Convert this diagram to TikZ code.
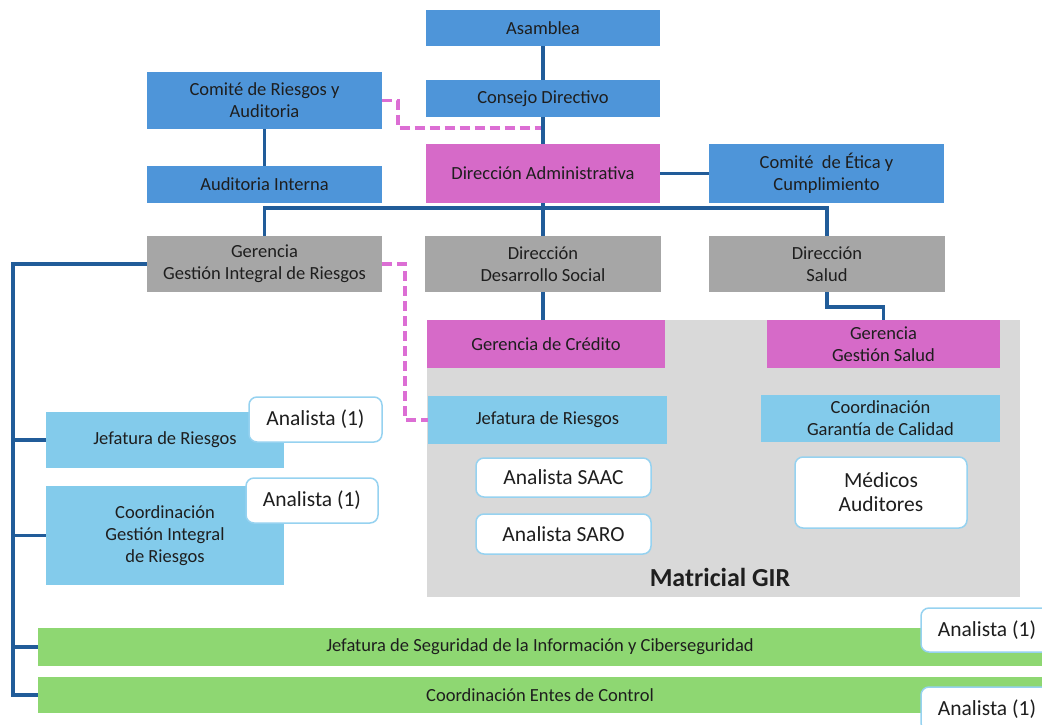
\documentclass[tikz,border=0pt]{standalone}
\usepackage{fontspec}
\setmainfont{Carlito}

\definecolor{midblue}{RGB}{78,149,217}
\definecolor{orchid}{RGB}{214,106,200}
\definecolor{boxgray}{RGB}{166,166,166}
\definecolor{skyblue}{RGB}{131,203,235}
\definecolor{leafgreen}{RGB}{142,215,114}
\definecolor{matrixgray}{RGB}{217,217,217}
\definecolor{linkblue}{RGB}{33,92,153}
\definecolor{dashpink}{RGB}{220,110,212}
\definecolor{inkgray}{RGB}{30,30,30}
\definecolor{rimblue}{RGB}{150,210,240}

\begin{document}
\begin{tikzpicture}[x=1pt, y=-1pt,
		unit/.style={rectangle, inner sep=0pt, align=center, text=inkgray, font=\fontsize{18.5}{22}\selectfont},
		blueBox/.style={unit, fill=midblue},
		pinkBox/.style={unit, fill=orchid},
		greyBox/.style={unit, fill=boxgray},
		cyanBox/.style={unit, fill=skyblue},
		greenBar/.style={unit, fill=leafgreen, minimum width=1004pt},
		staffBox/.style={unit, fill=white, draw=rimblue, line width=1.5pt, rounded corners=8pt, font=\fontsize{21.5}{24}\selectfont},
		link/.style={draw=linkblue, line width=3.5pt},
		pinkLink/.style={draw=dashpink, line width=3.5pt, dash pattern=on 10pt off 5pt}]
			\clip (0,0) rectangle (1042,725);
			
			% Matricial area (behind)
			\node[rectangle, fill=matrixgray, minimum width=593pt, minimum height=277pt] (matriz) at (723.5,458.5) {};
			\node[font=\fontsize{26}{30}\selectfont\bfseries, text=black!88] (mlabel) at (720,577) {Matricial GIR};
			
			% Nodes - top
			\node[blueBox, minimum width=234pt, minimum height=36pt] (asam) at (543,28) {Asamblea};
			\node[blueBox, minimum width=234pt, minimum height=37pt] (consejo) at (543,98.5) {Consejo Directivo};
			\node[blueBox, minimum width=235pt, minimum height=57pt] (comiteRA) at (264.5,100.5) {Comité de Riesgos y\\Auditoria};
			\node[blueBox, minimum width=235pt, minimum height=37pt] (audint) at (264.5,184.5) {Auditoria Interna};
			\node[pinkBox, minimum width=234pt, minimum height=59pt] (diradm) at (543,173.5) {Dirección Administrativa};
			\node[blueBox, minimum width=235pt, minimum height=59pt] (comiteEC) at (826.5,173.5) {Comité\ \ de Ética y\\Cumplimiento};
			
			% Nodes - directions
			\node[greyBox, minimum width=235pt, minimum height=56pt] (gir) at (264.5,264) {Gerencia\\Gestión Integral de Riesgos};
			\node[greyBox, minimum width=236pt, minimum height=56pt] (dds) at (543,264) {Dirección\\Desarrollo Social};
			\node[greyBox, minimum width=236pt, minimum height=56pt] (dsalud) at (827,264) {Dirección\\Salud};
			
			% Nodes - matricial
			\node[pinkBox, minimum width=238pt, minimum height=48pt] (gcred) at (546,344) {Gerencia de Crédito};
			\node[pinkBox, minimum width=233pt, minimum height=48pt] (gsalud) at (883.5,344) {Gerencia\\Gestión Salud};
			\node[cyanBox, minimum width=239pt, minimum height=48pt] (jefR2) at (547.5,420) {Jefatura de Riesgos};
			\node[cyanBox, minimum width=239pt, minimum height=47pt] (coordGC) at (880.5,418.5) {Coordinación\\Garantía de Calidad};
			\node[staffBox, minimum width=175pt, minimum height=39pt] (saac) at (563.5,477.5) {Analista SAAC};
			\node[staffBox, minimum width=175pt, minimum height=40pt] (saro) at (563.5,534) {Analista SARO};
			\node[staffBox, minimum width=172pt, minimum height=71pt] (medicos) at (881,492.5) {Médicos\\Auditores};
			
			% Nodes - left column
			\node[cyanBox, minimum width=238pt, minimum height=56pt] (jefR1) at (165,440) {Jefatura de Riesgos};
			\node[staffBox, minimum width=133pt, minimum height=45pt] (an1) at (315.5,419.5) {Analista (1)};
			\node[cyanBox, minimum width=238pt, minimum height=99pt] (coordGIR) at (165,535.5) {Coordinación\\Gestión Integral\\de Riesgos};
			\node[staffBox, minimum width=132pt, minimum height=45pt] (an2) at (312,500.5) {Analista (1)};
			
			% Nodes - bottom bars
			\node[greenBar, minimum height=38pt] (jefSeg) at (540,647) {Jefatura de Seguridad de la Información y Ciberseguridad};
			\node[staffBox, minimum width=132pt, minimum height=44pt] (an3) at (987,630) {Analista (1)};
			\node[greenBar, minimum height=36pt] (entes) at (540,695) {Coordinación Entes de Control};
			\node[staffBox, minimum width=132pt, minimum height=44pt] (an4) at (987,709) {Analista (1)};
			
			% Edges
			\coordinate (bus) at (543,208); \coordinate (lbus) at (13,695); \coordinate (dj) at (541,128);
			\draw[link] (asam) -- (consejo); \draw[link] (consejo) -- (diradm);
			\draw[link] (comiteRA) -- (audint); \draw[link] (diradm) -- (comiteEC);
			\draw[link] (diradm.south) -- (dds.north); \draw[link] (gir.north) |- (bus) -| (dsalud.north);
			\draw[link] (dds.south) -- (dds.south |- gcred.north);
			\draw[link] (dsalud.south) -- ++(0,15) -| (gsalud.north);
			\draw[link] (gir.west) -| (lbus) -- (entes.west);
			\draw[link] (jefR1.west) -- (jefR1.west -| lbus); \draw[link] (coordGIR.west) -- (coordGIR.west -| lbus);
			\draw[link] (jefSeg.west) -- (jefSeg.west -| lbus);
			\draw[pinkLink] (comiteRA.east) -- ++(16,0) |- (dj);
			\draw[pinkLink] (gir.east) -- ++(23,0) |- (jefR2.west);
		\end{tikzpicture}
\end{document}
